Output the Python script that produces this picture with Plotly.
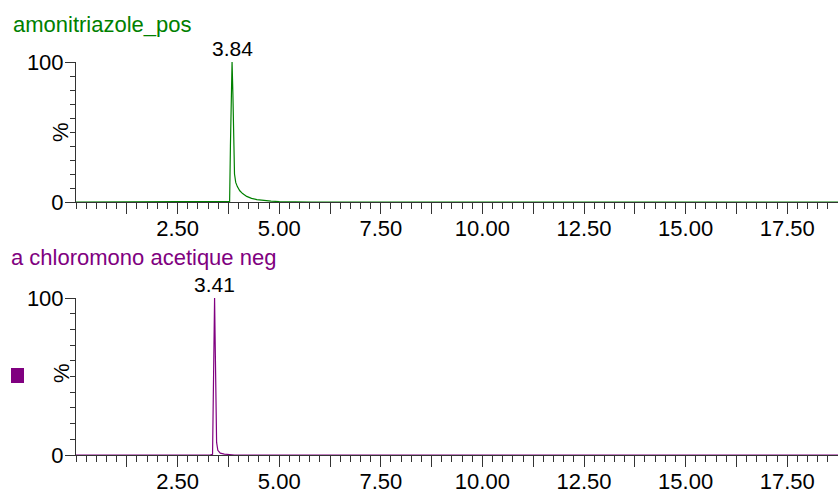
import plotly.graph_objects as go

# ---- data ----
top_title = "amonitriazole_pos"
bot_title = "a chloromono acetique neg"

top_time = [0.0, 3.70, 3.78, 3.80, 3.82, 3.84, 3.86, 3.88, 3.90, 3.93, 3.97, 4.03, 4.10, 4.20, 4.32, 4.45, 4.60, 4.80, 5.00, 5.30, 5.80, 18.75]
top_pct  = [0.0, 0.0, 0.5, 40, 90, 100, 78, 40, 20, 14, 11, 8, 6, 4, 2.6, 1.7, 1.1, 0.6, 0.3, 0.1, 0.0, 0.0]

bot_time = [0.0, 3.30, 3.36, 3.38, 3.40, 3.41, 3.42, 3.44, 3.46, 3.49, 3.55, 3.65, 3.80, 3.90, 18.75]
bot_pct  = [0.0, 0.0, 0.5, 30, 85, 100, 80, 30, 8, 3, 1.2, 0.6, 0.3, 0.0, 0.0]

top_peak = (3.84, 100, "3.84")
bot_peak = (3.41, 100, "3.41")

x_major = [1.25, 2.50, 3.75, 5.00, 6.25, 7.50, 8.75, 10.00, 11.25, 12.50, 13.75, 15.00, 16.25, 17.50]
x_labels = ["", "2.50", "", "5.00", "", "7.50", "", "10.00", "", "12.50", "", "15.00", "", "17.50"]

GREEN = "#008000"
PURPLE = "#800080"
FONT = "Liberation Sans, Arial, sans-serif"

W, H = 838, 490

fig = go.Figure()
fig.add_trace(go.Scatter(x=top_time, y=top_pct, mode="lines", line=dict(color=GREEN, width=1.2),
                         xaxis="x", yaxis="y", showlegend=False, hoverinfo="x+y"))
fig.add_trace(go.Scatter(x=bot_time, y=bot_pct, mode="lines", line=dict(color=PURPLE, width=1.2),
                         xaxis="x2", yaxis="y2", showlegend=False, hoverinfo="x+y"))

def px_x(p):
    return p / W

def px_y(p):
    return 1 - p / H

xcommon = dict(range=[0, 18.75], tickmode="array", tickvals=x_major, ticktext=x_labels,
               ticks="outside", ticklen=11, tickwidth=1, tickcolor="#333",
               showline=True, linecolor="#333", linewidth=1, showgrid=False, zeroline=False,
               tickfont=dict(family=FONT, size=22, color="black"), automargin=False,
               ticklabelstandoff=-4,
               minor=dict(ticks="outside", ticklen=6, tickwidth=1, tickcolor="#333", dtick=0.25, tick0=0, showgrid=False),
               domain=[px_x(76), 1.0], fixedrange=True)
ycommon = dict(range=[0, 100], tickmode="array", tickvals=[0, 100], ticktext=["0", "100"],
               ticks="outside", ticklen=10, tickwidth=1, tickcolor="#333",
               showline=True, linecolor="#333", linewidth=1, showgrid=False, zeroline=False,
               tickfont=dict(family=FONT, size=22, color="black"), automargin=False,
               ticklabelstandoff=-3,
               minor=dict(ticks="outside", ticklen=5, tickwidth=1, tickcolor="#333", dtick=10, tick0=0, showgrid=False),
               fixedrange=True)

fig.update_layout(
    width=W, height=H, autosize=False,
    margin=dict(l=0, r=0, t=0, b=0, pad=0),
    paper_bgcolor="white", plot_bgcolor="white",
    font=dict(family=FONT),
    xaxis=dict(**xcommon, anchor="y"),
    yaxis=dict(**ycommon, domain=[px_y(202), px_y(62)], anchor="x"),
    xaxis2=dict(**xcommon, anchor="y2"),
    yaxis2=dict(**ycommon, domain=[px_y(455), px_y(298)], anchor="x2"),
)

annotations = [
    dict(text=top_title, xref="paper", yref="paper", x=px_x(11), y=px_y(24), xanchor="left", yanchor="middle",
         showarrow=False, font=dict(family=FONT, size=22, color=GREEN)),
    dict(text=bot_title, xref="paper", yref="paper", x=px_x(9), y=px_y(257), xanchor="left", yanchor="middle",
         showarrow=False, font=dict(family=FONT, size=22, color=PURPLE)),
    dict(text=top_peak[2], x=top_peak[0], y=top_peak[1], xref="x", yref="y", xanchor="center", yanchor="bottom",
         showarrow=False, font=dict(family=FONT, size=21, color="black")),
    dict(text=bot_peak[2], x=bot_peak[0], y=bot_peak[1], xref="x2", yref="y2", xanchor="center", yanchor="bottom",
         showarrow=False, font=dict(family=FONT, size=21, color="black")),
    dict(text="%", xref="paper", yref="paper", x=px_x(60), y=px_y(132), textangle=-90, xanchor="center", yanchor="middle",
         showarrow=False, font=dict(family=FONT, size=22, color="black")),
    dict(text="%", xref="paper", yref="paper", x=px_x(61), y=px_y(373), textangle=-90, xanchor="center", yanchor="middle",
         showarrow=False, font=dict(family=FONT, size=22, color="black")),
]
fig.update_layout(annotations=annotations)

fig.add_shape(type="rect", xref="paper", yref="paper", x0=px_x(11), x1=px_x(24), y0=px_y(383), y1=px_y(368),
              fillcolor=PURPLE, line=dict(width=0))

fig.write_html("out.html", config={"displayModeBar": False},
               post_script="document.body.style.margin='0px';document.body.style.overflow='hidden';")
